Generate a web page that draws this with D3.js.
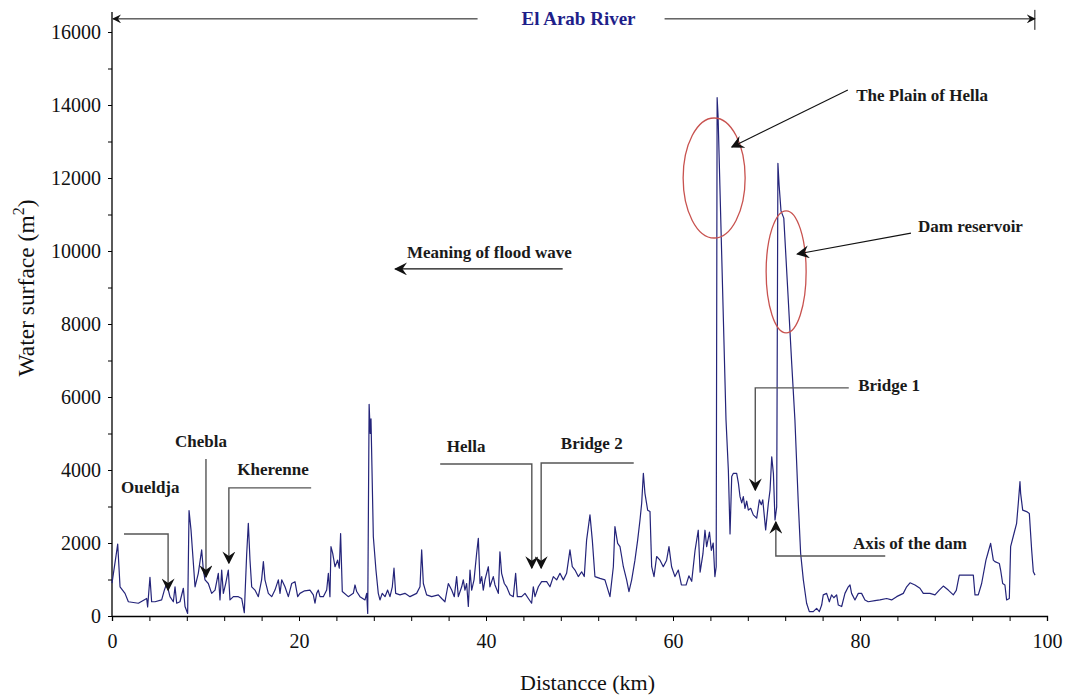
<!DOCTYPE html>
<html>
<head>
<meta charset="utf-8">
<script src="https://cdn.jsdelivr.net/npm/d3@7/dist/d3.min.js"></script>
<style>
  html, body { margin: 0; padding: 0; background: #fff; }
  svg { display: block; }
  text { font-family: "Liberation Serif", "Times New Roman", serif; }
</style>
</head>
<body>
<svg id="chart" width="1066" height="695"></svg>
<script>
// Distance along the river (km)
const distanceKm = [
  0, 0.39, 0.61, 0.86, 1.39, 1.75, 2.82, 3.71, 3.81, 4.06, 4.24, 4.6, 5.31, 5.6, 5.85, 6.2, 6.56, 6.74, 6.92, 7.27,
  7.63, 7.81, 8.09, 8.24, 8.45, 8.59, 8.88, 9.23, 9.59, 9.77, 9.95, 10.3, 10.66, 11.02, 11.37, 11.55, 11.73, 11.91, 12.16, 12.44,
  12.62, 12.98, 13.51, 13.87, 14.15, 14.4, 14.58, 14.76, 14.94, 15.29, 15.65, 16.0, 16.19, 16.36, 16.72, 17.08, 17.43, 17.79, 17.97, 18.15,
  18.5, 18.86, 19.04, 19.22, 19.57, 19.86, 20.1, 20.6, 21.17, 21.53, 21.71, 21.89, 22.07, 22.24, 22.6, 22.96, 23.14, 23.31, 23.42, 23.6,
  23.85, 24.13, 24.31, 24.45, 24.63, 25.27, 25.81, 25.99, 26.17, 26.52, 27.06, 27.24, 27.35, 27.5, 27.62, 27.7, 27.95, 28.23, 28.48, 28.66,
  28.9, 29.2, 29.48, 29.73, 29.98, 30.16, 30.34, 30.8, 31.33, 31.87, 32.58, 32.94, 33.12, 33.3, 33.65, 34.19, 34.9, 35.26, 35.61, 35.97,
  36.33, 36.61, 36.86, 37.04, 37.4, 37.57, 37.75, 37.93, 38.11, 38.29, 38.47, 38.72, 39.0, 39.18, 39.36, 39.54, 39.71, 39.89, 40.25, 40.42,
  40.78, 40.96, 41.32, 41.49, 41.67, 41.96, 42.21, 42.56, 42.92, 43.17, 43.35, 43.81, 44.17, 44.53, 44.88, 45.06, 45.24, 45.6, 45.95, 46.49,
  46.84, 47.2, 47.56, 47.91, 48.27, 48.62, 48.98, 49.23, 49.52, 49.87, 50.23, 50.51, 50.76, 51.12, 51.37, 51.65, 52.19, 52.72, 53.26, 53.62,
  53.79, 54.08, 54.33, 54.51, 54.69, 55.04, 55.29, 55.58, 55.93, 56.22, 56.47, 56.65, 56.83, 57.0, 57.29, 57.54, 57.72, 57.97, 58.25, 58.61,
  58.96, 59.32, 59.57, 59.85, 60.21, 60.57, 60.9, 61.4, 61.7, 62.0, 62.36, 62.7, 62.9, 63.2, 63.42, 63.6, 63.9, 64.1, 64.3, 64.48,
  64.62, 64.72, 64.82, 65.67, 65.92, 66.1, 66.28, 66.46, 66.81, 66.99, 67.17, 67.35, 67.52, 67.7, 67.88, 68.06, 68.31, 68.59, 68.95, 69.24,
  69.45, 69.6, 69.91, 70.2, 70.38, 70.56, 70.74, 70.91, 71.09, 71.22, 71.35, 71.55, 71.85, 72.3, 72.7, 73.04, 73.4, 73.65, 73.94, 74.29,
  74.58, 75.0, 75.36, 75.65, 75.9, 76.07, 76.43, 76.72, 76.96, 77.2, 77.5, 77.68, 78.04, 78.39, 78.75, 78.93, 79.1, 79.46, 79.82, 80.17,
  80.53, 80.88, 81.6, 82.13, 82.85, 83.38, 83.92, 84.63, 84.99, 85.35, 85.88, 86.41, 86.77, 87.48, 88.02, 88.48, 88.91, 89.44, 89.98, 90.3,
  90.62, 92.12, 92.3, 92.65, 93.01, 93.47, 93.72, 93.97, 94.26, 94.43, 94.9, 95.04, 95.26, 95.5, 95.68, 95.97, 96.11, 96.47, 96.75, 96.93,
  97.11, 97.18, 97.4, 97.82, 98.11, 98.36, 98.54, 98.72
];

// Water surface (m²) at each distance
const waterSurface = [
  900, 1580, 1970, 800, 620, 390, 350, 480, 250, 1060, 390, 390, 440, 710, 890, 530, 390, 800, 350, 390,
  760, 260, 70, 2890, 2360, 1850, 800, 1170, 1810, 1260, 990, 890, 620, 710, 1170, 440, 1260, 620, 890, 1260,
  440, 530, 530, 480, 90, 1670, 2540, 1530, 800, 710, 530, 990, 1490, 990, 620, 530, 710, 990, 620, 990,
  800, 530, 710, 890, 940, 530, 620, 690, 710, 580, 350, 620, 710, 530, 530, 710, 1170, 530, 1900, 1720,
  1350, 1530, 1310, 2260, 670, 530, 620, 850, 670, 530, 440, 620, 70, 5800, 5000, 5400, 2170, 1260, 620, 440,
  620, 530, 710, 530, 800, 1310, 620, 580, 620, 530, 620, 800, 1810, 890, 580, 530, 580, 480, 390, 890,
  710, 530, 1080, 530, 800, 990, 710, 890, 260, 1260, 710, 990, 1720, 2130, 890, 1080, 710, 990, 1350, 800,
  1080, 850, 620, 1760, 1170, 890, 800, 580, 530, 1170, 530, 530, 620, 480, 350, 800, 530, 800, 940, 940,
  800, 1080, 990, 1170, 990, 1170, 1810, 1350, 1260, 1080, 1210, 1080, 2080, 2770, 2080, 1080, 1030, 990, 530, 1350,
  2450, 1990, 1900, 1630, 1350, 990, 670, 990, 1530, 2080, 2630, 3090, 3910, 3360, 2900, 2860, 1350, 1080, 1630, 1530,
  1350, 1530, 1900, 1350, 1080, 1260, 850, 850, 1100, 950, 1800, 2350, 1200, 1700, 2350, 1900, 2300, 1800, 2000, 1080,
  1350, 14200, 13700, 5370, 4000, 2250, 3820, 3910, 3910, 3650, 3270, 3100, 3270, 2950, 3150, 2900, 2950, 2770, 2680, 3180,
  3050, 3180, 2360, 3090, 3450, 4360, 3900, 2630, 2990, 12400, 11800, 11100, 10900, 8800, 6900, 5370, 3090, 1720, 990, 350,
  120, 120, 210, 120, 300, 580, 620, 390, 580, 500, 580, 300, 260, 620, 800, 850, 620, 440, 620, 620,
  440, 390, 420, 440, 480, 440, 530, 620, 800, 910, 850, 760, 620, 620, 580, 710, 820, 710, 580, 700,
  1120, 1120, 580, 580, 890, 1530, 1760, 1990, 1530, 1490, 1440, 1260, 890, 850, 440, 480, 1900, 2260, 2540, 3090,
  3680, 3360, 2900, 2860, 2810, 1810, 1210, 1120
];

// Axis ticks
const xTickValues = d3.range(0, 101, 4);
const xLabelValues = [0, 20, 40, 60, 80, 100];
const yTickValues = d3.range(0, 16001, 1000);
const yLabelValues = [0, 2000, 4000, 6000, 8000, 10000, 12000, 14000, 16000];

// Annotation texts
const riverName = "El Arab River";
const xTitle = "Distancce (km)";
const yTitle = "Water surface (m";

const svg = d3.select("#chart");
svg.append("rect").attr("width", 1066).attr("height", 695).attr("fill", "#fff");

const x = d3.scaleLinear().domain([0, 100]).range([112, 1047]);
const y = d3.scaleLinear().domain([0, 16000]).range([616, 32]);

// Arrowhead markers
const defs = svg.append("defs");
function marker(id, color, size) {
  defs.append("marker")
    .attr("id", id)
    .attr("viewBox", "0 0 10 10")
    .attr("refX", 9).attr("refY", 5)
    .attr("markerUnits", "userSpaceOnUse")
    .attr("markerWidth", size).attr("markerHeight", size)
    .attr("orient", "auto")
    .append("path")
    .attr("d", "M0,0 L10,5 L0,10 L3.5,5 Z")
    .attr("fill", color);
}
marker("head", "#111", 13);
marker("headSmall", "#111", 9);

// Axes
const xAxis = d3.axisBottom(x)
  .tickValues(xTickValues)
  .tickSize(5)
  .tickPadding(13)
  .tickFormat(d => xLabelValues.includes(d) ? d : "");
const gx = svg.append("g").attr("transform", `translate(0,${y(0)})`).call(xAxis);
gx.select(".domain").attr("stroke", "#000").attr("stroke-width", 1.3);
gx.selectAll(".tick line").attr("stroke", "#000");
gx.selectAll("text").attr("font-size", 20).attr("fill", "#111")
  .attr("font-family", "Liberation Serif, serif");

const yAxis = d3.axisLeft(y)
  .tickValues(yTickValues)
  .tickSize(4)
  .tickPadding(7)
  .tickFormat(d => yLabelValues.includes(d) ? d : "");
const gy = svg.append("g").attr("transform", `translate(${x(0)},0)`).call(yAxis);
gy.select(".domain").remove();
gy.selectAll(".tick line").attr("stroke", "#000");
gy.selectAll("text").attr("font-size", 20).attr("fill", "#111")
  .attr("font-family", "Liberation Serif, serif");
// vertical axis line runs up past the top tick to the river arrow
svg.append("line")
  .attr("x1", x(0)).attr("x2", x(0))
  .attr("y1", y(0)).attr("y2", 12)
  .attr("stroke", "#000").attr("stroke-width", 1.3);

// Axis titles
svg.append("text")
  .attr("x", (x(0) + x(100)) / 2 + 8).attr("y", 690)
  .attr("text-anchor", "middle")
  .attr("font-size", 22).attr("fill", "#111")
  .text(xTitle);

const yt = svg.append("text")
  .attr("transform", `translate(34,${y(8000) - 36}) rotate(-90)`)
  .attr("text-anchor", "middle")
  .attr("font-size", 23.5).attr("fill", "#111");
yt.append("tspan").text(yTitle);
yt.append("tspan").attr("font-size", 16).attr("dy", -10).text("2");
yt.append("tspan").attr("dy", 10).text(")");

// Water surface profile
const points = distanceKm.map((d, i) => [d, waterSurface[i]]);
const line = d3.line().x(d => x(d[0])).y(d => y(d[1]));
svg.append("path")
  .datum(points)
  .attr("d", line)
  .attr("fill", "none")
  .attr("stroke", "#24247a")
  .attr("stroke-width", 1.2)
  .attr("stroke-linejoin", "round");

// River extent arrow across the top
const topV = 16360;
const titleG = svg.append("g");
titleG.append("text")
  .attr("x", x(49.9)).attr("y", y(topV) + 6)
  .attr("text-anchor", "middle")
  .attr("font-size", 19).attr("font-weight", "bold")
  .attr("fill", "#1f1f8a")
  .text(riverName);
titleG.append("line")
  .attr("x1", x(39.1)).attr("x2", x(0) + 1)
  .attr("y1", y(topV)).attr("y2", y(topV))
  .attr("stroke", "#111").attr("stroke-width", 1)
  .attr("marker-end", "url(#headSmall)");
titleG.append("line")
  .attr("x1", x(59.1)).attr("x2", x(98.7))
  .attr("y1", y(topV)).attr("y2", y(topV))
  .attr("stroke", "#111").attr("stroke-width", 1)
  .attr("marker-end", "url(#headSmall)");
titleG.append("line")
  .attr("x1", x(98.7)).attr("x2", x(98.7))
  .attr("y1", y(topV) - 9).attr("y2", y(topV) + 11)
  .attr("stroke", "#111").attr("stroke-width", 1);

// Red ellipses around the two peaks
const ellipses = [
  { km: 64.4, v: 12000, rx: 31, ry: 60 },
  { km: 72.1, v: 9430, rx: 20, ry: 61 }
];
svg.selectAll("ellipse.peak").data(ellipses).join("ellipse")
  .attr("class", "peak")
  .attr("cx", d => x(d.km)).attr("cy", d => y(d.v))
  .attr("rx", d => d.rx).attr("ry", d => d.ry)
  .attr("fill", "none").attr("stroke", "#c8524f").attr("stroke-width", 1.3);

// Annotation labels
const labels = [
  { text: "The Plain of Hella", km: 79.6, v: 14110 },
  { text: "Dam reservoir", km: 86.2, v: 10520 },
  { text: "Meaning of flood wave", km: 31.55, v: 9810 },
  { text: "Bridge 1", km: 79.8, v: 6165 },
  { text: "Axis of the dam", km: 79.25, v: 1835 },
  { text: "Hella", km: 35.8, v: 4490 },
  { text: "Bridge 2", km: 48.0, v: 4575 },
  { text: "Oueldja", km: 0.96, v: 3370 },
  { text: "Chebla", km: 6.74, v: 4630 },
  { text: "Kherenne", km: 13.4, v: 3860 }
];
svg.selectAll("text.note").data(labels).join("text")
  .attr("class", "note")
  .attr("x", d => x(d.km)).attr("y", d => y(d.v))
  .attr("font-size", 17).attr("font-weight", "bold").attr("fill", "#1a1a1a")
  .text(d => d.text);

// Straight pointer arrows (black)
const pointers = [
  [[78.7, 14410], [66.3, 12850]],
  [[85.45, 10490], [73.3, 9920]],
  [[48.2, 9510], [30.3, 9510]]
];
svg.selectAll("path.pointer").data(pointers).join("path")
  .attr("class", "pointer")
  .attr("d", d => line(d))
  .attr("fill", "none").attr("stroke", "#111").attr("stroke-width", 1.1)
  .attr("marker-end", "url(#head)");

// Elbow leader lines (grey) down to river locations
const leaders = [
  [[78.8, 6250], [68.8, 6250], [68.8, 3450]],
  [[82.7, 1645], [71.0, 1645], [71.0, 2575]],
  [[35.1, 4165], [44.9, 4165], [44.9, 1315]],
  [[55.8, 4190], [45.9, 4190], [45.9, 1315]],
  [[1.28, 2245], [6.0, 2245], [6.0, 710]],
  [[10.05, 4300], [10.05, 1070]],
  [[21.3, 3510], [12.5, 3510], [12.5, 1450]]
];
svg.selectAll("path.leader").data(leaders).join("path")
  .attr("class", "leader")
  .attr("d", d => line(d))
  .attr("fill", "none").attr("stroke", "#555").attr("stroke-width", 1.4)
  .attr("marker-end", "url(#head)");
</script>
</body>
</html>
